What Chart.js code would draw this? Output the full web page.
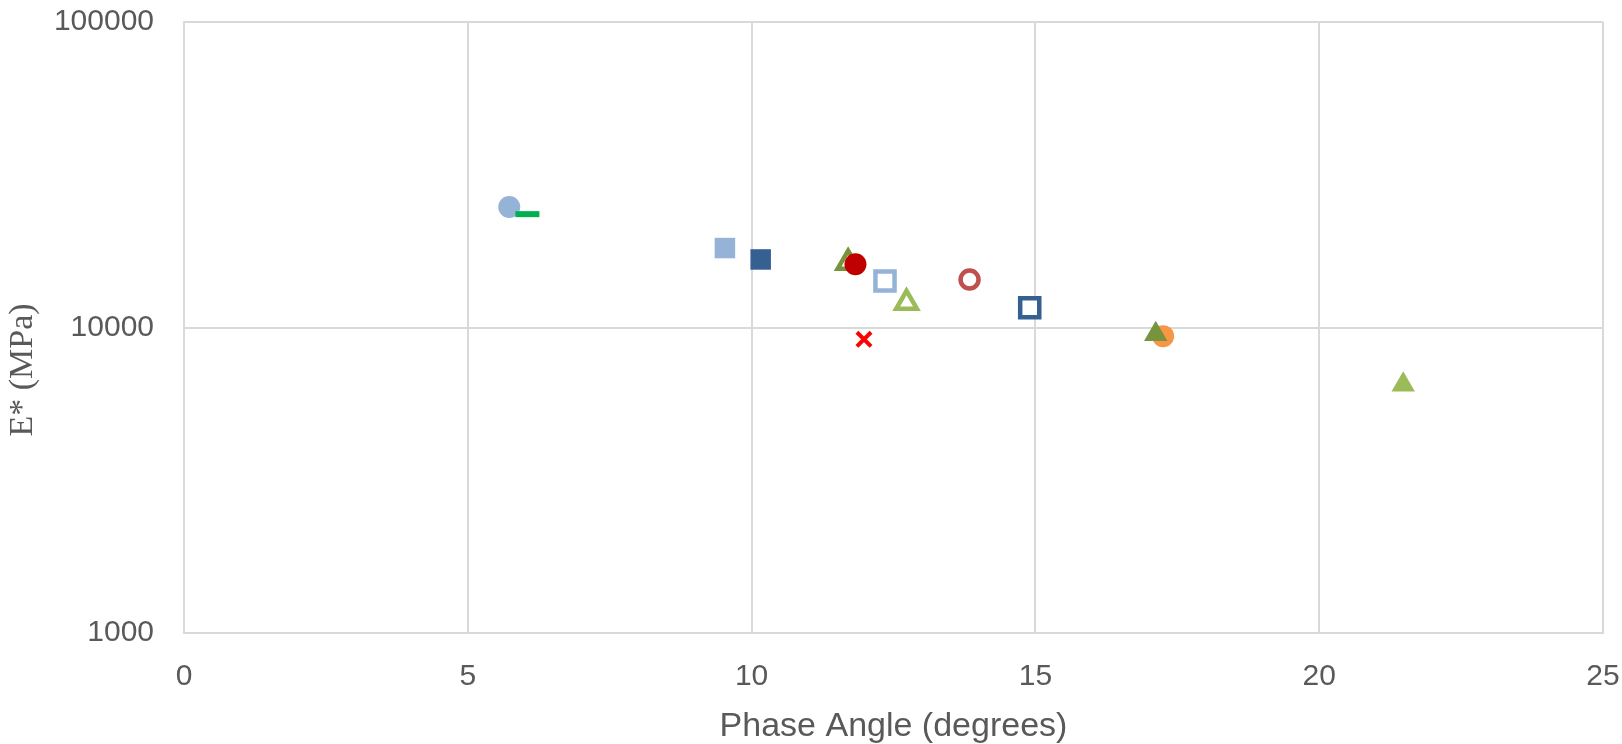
<!DOCTYPE html>
<html>
<head>
<meta charset="utf-8">
<script src="https://cdn.jsdelivr.net/npm/chart.js@4/dist/chart.umd.min.js"></script>
<style>
  html, body { margin: 0; padding: 0; background: #fff; }
  #wrap { width: 1622px; height: 744px; }
</style>
</head>
<body>
<div id="wrap"><canvas id="chart" width="1622" height="744"></canvas></div>
<script>
// one point per series
const phaseAngle = [5.73, 6.05, 9.53, 10.16, 11.70, 11.83, 12.35, 12.73, 13.84, 14.90, 11.98, 17.25, 17.12, 21.48];
const modulus = [24800, 23500, 18200, 16700, 16300, 16100, 14200, 12050, 14350, 11600, 9150, 9370, 9500, 6500];
const xTicks = [0, 5, 10, 15, 20, 25];
const yTicks = [1000, 10000, 100000];

// marker look for each series (same order as above)
const markers = [
    { style: "circle", color: "#95B3D7", fill: true, r: 11 },
    { style: "line", color: "#00B050", fill: true, r: 12, bw: 6 },
    { style: "rect", color: "#95B3D7", fill: true, r: 14.5 },
    { style: "rect", color: "#366092", fill: true, r: 14.5 },
    { style: "triangle", color: "#77933C", fill: false, r: 12 },
    { style: "circle", color: "#C00000", fill: true, r: 11 },
    { style: "rect", color: "#95B3D7", fill: false, r: 13.5 },
    { style: "triangle", color: "#9BBB59", fill: false, r: 12 },
    { style: "circle", color: "#C0504D", fill: false, r: 9 },
    { style: "rect", color: "#366092", fill: false, r: 13.5 },
    { style: "crossRot", color: "#FF0000", fill: false, r: 10, bw: 4 },
    { style: "circle", color: "#F79646", fill: true, r: 11 },
    { style: "triangle", color: "#77933C", fill: true, r: 13.5 },
    { style: "triangle", color: "#9BBB59", fill: true, r: 13.5 }
];

const datasets = phaseAngle.map((x, i) => {
    const m = markers[i];
    return {
        data: [{ x: x, y: modulus[i] }],
        pointStyle: m.style,
        pointRadius: m.r,
        pointBackgroundColor: m.fill ? m.color : "#ffffff",
        pointBorderColor: m.color,
        pointBorderWidth: m.bw || (m.fill ? 0 : 4.5),
        showLine: false
    };
}).reverse(); // later series end up on top, like in the original

const gridColor = "#D9D9D9";
const textColor = "#595959";

// y title sits a bit below the middle of the plot in the original
const yTitlePlugin = {
    id: "yTitle",
    afterDraw(chart) {
        const ctx = chart.ctx;
        ctx.save();
        ctx.translate(23, 370);
        ctx.rotate(-Math.PI / 2);
        ctx.font = "34px 'Liberation Serif'";
        ctx.fillStyle = textColor;
        ctx.textAlign = "center";
        ctx.textBaseline = "middle";
        ctx.fillText("E* (MPa)", 0, 0);
        ctx.restore();
    }
};

new Chart(document.getElementById("chart"), {
    type: "scatter",
    data: { datasets: datasets },
    plugins: [yTitlePlugin],
    options: {
        responsive: false,
        animation: false,
        layout: { padding: 0 },
        plugins: { legend: { display: false }, tooltip: { enabled: false } },
        scales: {
            x: {
                type: "linear",
                min: 0,
                max: 25,
                afterBuildTicks: (s) => { s.ticks = xTicks.map((v) => ({ value: v })); },
                afterFit: (s) => {
                    s.height = 744 - 633;
                    s.paddingLeft = 0;
                    s.paddingRight = 19;
                },
                grid: { color: gridColor, lineWidth: 2, drawTicks: false },
                border: { color: gridColor, width: 2 },
                ticks: { color: textColor, padding: 26, font: { family: "Liberation Sans", size: 30 } },
                title: {
                    display: true,
                    text: "Phase Angle (degrees)",
                    color: textColor,
                    padding: { top: 0, bottom: 0 },
                    font: { family: "Liberation Sans", size: 34, lineHeight: 1 }
                }
            },
            y: {
                type: "logarithmic",
                min: 1000,
                max: 100000,
                afterBuildTicks: (s) => { s.ticks = yTicks.map((v) => ({ value: v })); },
                afterFit: (s) => {
                    s.width = 184;
                    s.paddingTop = 22;
                    s.paddingBottom = 0;
                },
                grid: { color: gridColor, lineWidth: 2, drawTicks: false },
                border: { color: gridColor, width: 2 },
                ticks: {
                    color: textColor,
                    padding: 30,
                    font: { family: "Liberation Sans", size: 30 },
                    callback: (v) => String(v)
                }
            }
        }
    }
});
</script>
</body>
</html>
